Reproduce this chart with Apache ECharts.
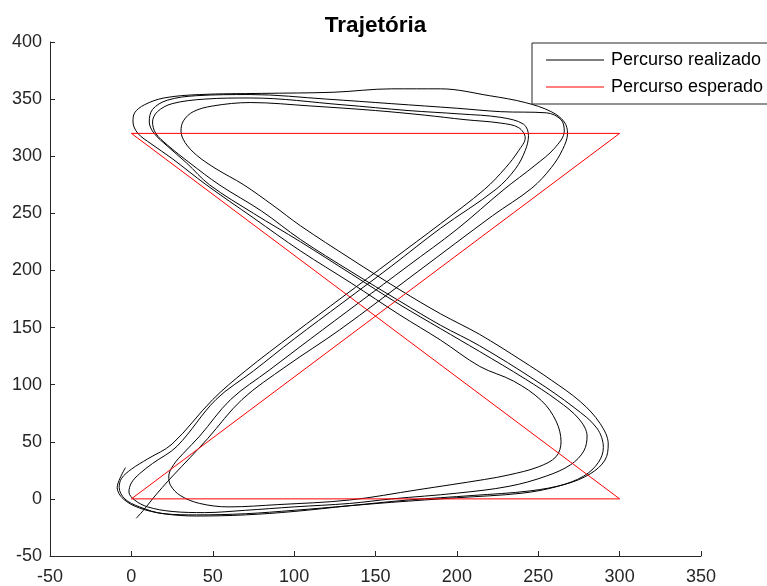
<!DOCTYPE html>
<html>
<head>
<meta charset="utf-8">
<script src="https://cdn.jsdelivr.net/npm/echarts@6/dist/echarts.min.js"></script>
<style>
  html, body { margin: 0; padding: 0; background: #fff; }
  #chart { width: 767px; height: 586px; }
</style>
</head>
<body>
<div id="chart"></div>
<script>
// Axis ticks
const xTicks = [-50, 0, 50, 100, 150, 200, 250, 300, 350];
const yTicks = [-50, 0, 50, 100, 150, 200, 250, 300, 350, 400];

// Expected route: figure-eight made of straight legs
const expectedX = [0, 300, 0, 300, 0];
const expectedY = [0, 0, 320, 320, 0];

// Recorded route, one lap per array (x, y pairs), in driving order
const lap1 = [[3,-17],[8,-9],[13,0],[19,10],[26,21],[36,36],[47,53],[68,87],[95,116],[128,148],[176,199],[222,248],[246,272],[258,290],[265,306],[268,320],[266,330],[258,339],[242,347],[220,353],[190,359],[160,359],[124,356],[80,355],[42,354],[20,351],[8,345],[2,338],[1,330],[4,320],[12,311],[25,298],[46,275],[75,246],[104,217],[135,189],[165,161],[190,139],[214,116],[235,103],[252,86],[261,68],[264,50],[261,37],[250,28],[232,21],[217,17],[176,8],[134,-1],[90,-5],[60,-7],[42,-4],[30,3],[24,12],[23,20],[26,30]];
const lap2 = [[32,40],[42,55],[61,87],[85,113],[110,140],[140,172],[170,204],[200,236],[229,271],[248,292],[260,307],[266,322],[264,332],[255,338],[227,339],[200,342],[160,346],[120,350],[73,354],[40,353],[22,349],[13,341],[11,330],[14,320],[22,309],[34,294],[48,275],[75,250],[104,225],[135,197],[165,170],[190,149],[214,129],[242,105],[262,86],[275,70],[280,55],[278,42],[270,30],[255,20],[232,11],[200,5],[160,0],[134,-4],[100,-7],[70,-10],[45,-12],[25,-11],[10,-7],[2,-1],[-1.5,6],[0,14],[5,22],[13,31]];
const lap3 = [[28,46],[52,87],[75,112],[100,140],[130,172],[160,204],[190,237],[224,271],[236,289],[242,305],[244,318],[241,328],[227,334],[202,337],[170,340],[130,345],[73,351],[45,350],[25,346],[16,339],[13,330],[15,320],[22,310],[36,294],[54,275],[80,252],[104,227],[135,199],[165,173],[190,152],[214,134],[248,104],[272,80],[286,62],[290,45],[287,32],[278,20],[262,11],[240,5],[200,1],[160,-3],[134,-6],[100,-10],[70,-13],[40,-14],[20,-13],[5,-7],[-4,0],[-7.5,10],[-6,18],[0,26],[10,35],[25,48]];
const lap4 = [[50,87],[70,112],[100,145],[130,177],[160,209],[190,241],[217,271],[230,290],[238,305],[242,316],[238,325],[227,329],[205,332],[180,336],[150,340],[110,344],[73,347],[50,344],[38,339],[32,331],[30.5,322],[33,312],[40,301],[52,289],[69,275],[87,257],[104,239],[135,210],[165,183],[190,162],[214,144],[240,121],[258,104],[276,85],[288,66],[293,48],[291,34],[282,22],[267,13],[245,7],[210,3],[170,-1],[134,-6],[100,-11],[70,-14],[40,-15],[20,-13],[5,-8],[-5,0],[-8.7,10],[-7,18],[-3.6,27.5]];

const recorded = [].concat(lap1, lap2, lap3, lap4);
const expected = expectedX.map((x, i) => [x, expectedY[i]]);

const axisColor = '#262626';
const font = "'Liberation Sans', Arial, Helvetica, sans-serif";

const chart = echarts.init(document.getElementById('chart'), null, { renderer: 'canvas' });
chart.setOption({
  animation: false,
  backgroundColor: '#ffffff',
  title: {
    text: 'Trajetória',
    left: 375.5,
    textAlign: 'center',
    top: 14,
    padding: 0,
    textStyle: { fontFamily: font, fontSize: 22.5, fontWeight: 'bold', color: '#000' }
  },
  legend: {
    orient: 'vertical',
    left: 532,
    top: 43,
    padding: [8, 5, 8, 14],
    itemGap: 9,
    itemWidth: 58,
    itemHeight: 1,
    borderColor: axisColor,
    borderWidth: 1,
    backgroundColor: '#fff',
    textStyle: { fontFamily: font, fontSize: 18, color: '#000', padding: [0, 0, 0, 2] },
    data: [
      { name: 'Percurso realizado', icon: 'rect' },
      { name: 'Percurso esperado', icon: 'rect' }
    ]
  },
  grid: { left: 50, right: 66, top: 42, bottom: 29, containLabel: false },
  xAxis: {
    type: 'value',
    min: xTicks[0],
    max: xTicks[xTicks.length - 1],
    interval: 50,
    axisLine: { onZero: false, lineStyle: { color: axisColor, width: 1 } },
    axisTick: { inside: true, length: 5, lineStyle: { color: axisColor } },
    axisLabel: { fontFamily: font, fontSize: 18, color: axisColor, margin: 12 },
    splitLine: { show: false }
  },
  yAxis: {
    type: 'value',
    min: yTicks[0],
    max: yTicks[yTicks.length - 1],
    interval: 50,
    axisLine: { show: true, onZero: false, lineStyle: { color: axisColor, width: 1 } },
    axisTick: { show: true, inside: true, length: 5, lineStyle: { color: axisColor } },
    axisLabel: { fontFamily: font, fontSize: 18, color: axisColor, margin: 8, padding: [8, 0, 0, 0] },
    splitLine: { show: false }
  },
  series: [
    {
      name: 'Percurso realizado',
      type: 'line',
      data: recorded,
      smooth: 0.35,
      showSymbol: false,
      symbol: 'none',
      itemStyle: { color: '#000' },
      lineStyle: { color: '#000', width: 1 },
      z: 2
    },
    {
      name: 'Percurso esperado',
      type: 'line',
      data: expected,
      showSymbol: false,
      symbol: 'none',
      itemStyle: { color: '#ff0000' },
      lineStyle: { color: '#ff0000', width: 1 },
      z: 3
    }
  ]
});
</script>
</body>
</html>
